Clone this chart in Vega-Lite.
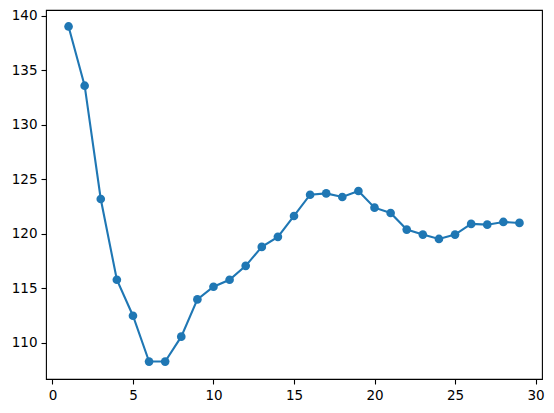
{
  "$schema": "https://vega.github.io/schema/vega-lite/v6.json",
  "width": 496,
  "height": 369,
  "autosize": {"type": "none"},
  "padding": {"left": 46, "top": 10, "right": 12, "bottom": 34},
  "background": "white",
  "config": {
    "view": {"stroke": "black", "strokeWidth": 1.1},
    "axis": {
      "grid": false,
      "domain": false,
      "tickColor": "black",
      "tickWidth": 1.1,
      "tickSize": 5,
      "labelColor": "black",
      "labelFont": "DejaVu Sans",
      "labelFontSize": 13.5,
      "labelPadding": 4,
      "title": null
    }
  },
  "data": {
    "values": [
      {"x": 1, "y": 139.03},
      {"x": 2, "y": 133.59},
      {"x": 3, "y": 123.19},
      {"x": 4, "y": 115.77},
      {"x": 5, "y": 112.47},
      {"x": 6, "y": 108.26},
      {"x": 7, "y": 108.26},
      {"x": 8, "y": 110.55},
      {"x": 9, "y": 113.97},
      {"x": 10, "y": 115.13},
      {"x": 11, "y": 115.77},
      {"x": 12, "y": 117.05},
      {"x": 13, "y": 118.79},
      {"x": 14, "y": 119.71},
      {"x": 15, "y": 121.63},
      {"x": 16, "y": 123.58},
      {"x": 17, "y": 123.7},
      {"x": 18, "y": 123.37},
      {"x": 19, "y": 123.92},
      {"x": 20, "y": 122.39},
      {"x": 21, "y": 121.9},
      {"x": 22, "y": 120.38},
      {"x": 23, "y": 119.92},
      {"x": 24, "y": 119.52},
      {"x": 25, "y": 119.92},
      {"x": 26, "y": 120.9},
      {"x": 27, "y": 120.83},
      {"x": 28, "y": 121.08},
      {"x": 29, "y": 120.99}
    ]
  },
  "encoding": {
    "x": {
      "field": "x",
      "type": "quantitative",
      "scale": {"domain": [-0.4, 30.4], "nice": false, "zero": false},
      "axis": {"values": [0, 5, 10, 15, 20, 25, 30]}
    },
    "y": {
      "field": "y",
      "type": "quantitative",
      "scale": {"domain": [106.66, 140.54], "nice": false, "zero": false},
      "axis": {"values": [110, 115, 120, 125, 130, 135, 140]}
    }
  },
  "layer": [
    {"mark": {"type": "line", "color": "#1f77b4", "strokeWidth": 2.1}},
    {"mark": {"type": "point", "filled": true, "shape": "circle", "size": 75, "color": "#1f77b4", "opacity": 1}}
  ]
}
